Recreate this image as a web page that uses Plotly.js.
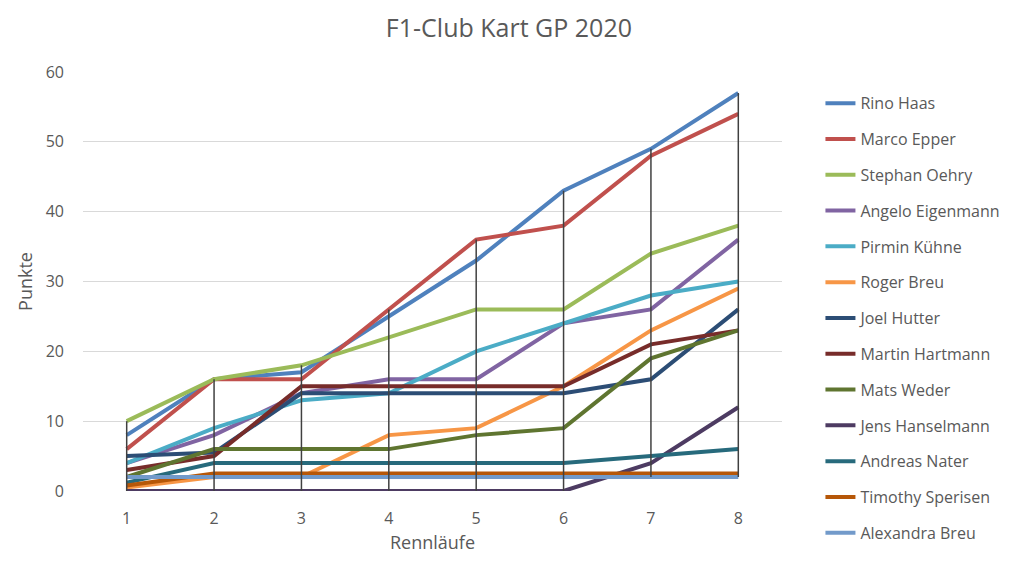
<!DOCTYPE html>
<html><head><meta charset="utf-8">
<script src="https://cdn.plot.ly/plotly-3.0.1.min.js"></script>
<style>html,body{margin:0;padding:0;background:#fff}#c{width:1024px;height:563px}</style>
</head><body><div id="c"></div>
<script>
const races = [1, 2, 3, 4, 5, 6, 7, 8];
const names = ["Rino Haas","Marco Epper","Stephan Oehry","Angelo Eigenmann","Pirmin Kühne","Roger Breu","Joel Hutter","Martin Hartmann","Mats Weder","Jens Hanselmann","Andreas Nater","Timothy Sperisen","Alexandra Breu"];
const rinoHaas        = [8, 16, 17, 25, 33, 43, 49, 57];
const marcoEpper      = [6, 16, 16, 26, 36, 38, 48, 54];
const stephanOehry    = [10, 16, 18, 22, 26, 26, 34, 38];
const angeloEigenmann = [4, 8, 14, 16, 16, 24, 26, 36];
const pirminKuehne    = [4, 9, 13, 14, 20, 24, 28, 30];
const rogerBreu       = [0.5, 2, 2, 8, 9, 15, 23, 29];
const joelHutter      = [5, 5.5, 14, 14, 14, 14, 16, 26];
const martinHartmann  = [3, 5, 15, 15, 15, 15, 21, 23];
const matsWeder       = [2, 6, 6, 6, 8, 9, 19, 23];
const jensHanselmann  = [0, 0, 0, 0, 0, 0, 4, 12];
const andreasNater    = [1.2, 4, 4, 4, 4, 4, 5, 6];
const timothySperisen = [0.8, 2.5, 2.5, 2.5, 2.5, 2.5, 2.5, 2.5];
const alexandraBreu   = [2, 2, 2, 2, 2, 2, 2, 2];
const series = [rinoHaas, marcoEpper, stephanOehry, angeloEigenmann, pirminKuehne, rogerBreu, joelHutter, martinHartmann, matsWeder, jensHanselmann, andreasNater, timothySperisen, alexandraBreu];
const colors = ["#4F81BD","#C0504D","#9BBB59","#8064A2","#4BACC6","#F79646","#2C4D75","#772C2A","#5F7530","#4D3B62","#276A7C","#B65708","#729ACA"];

const font = "Open Sans, Liberation Sans, sans-serif";
const traces = series.map((s, i) => ({
  x: races, y: s, name: names[i], type: "scatter", mode: "lines",
  line: {color: colors[i], width: 4}, legendgroup: "g" + i
}));
// high-low lines
const hlx = [], hly = [];
races.forEach((r, k) => {
  const vals = series.map(s => s[k]);
  hlx.push(r, r, null);
  hly.push(Math.min(...vals), Math.max(...vals), null);
});
traces.push({x: hlx, y: hly, type: "scatter", mode: "lines", showlegend: false,
  line: {color: "#404040", width: 1.5}, hoverinfo: "skip"});

const layout = {
  width: 1024, height: 563,
  margin: {l: 83, r: 242, t: 72, b: 72, autoexpand: false},
  paper_bgcolor: "#fff", plot_bgcolor: "#fff",
  font: {family: font, color: "#595959", size: 15},
  title: {text: "F1-Club Kart GP 2020", x: 0.497, xanchor: "center", y: 0.95, yanchor: "middle",
    font: {size: 25, color: "#595959", family: font}},
  xaxis: {range: [0.5, 8.5], tickvals: races, ticktext: races.map(String), showgrid: false,
    zeroline: false, showline: false, ticks: "", tickfont: {size: 16}, ticklabelstandoff: 16,
    title: {text: "Rennläufe", font: {size: 18}, standoff: 8}, automargin: false},
  yaxis: {range: [0, 60], dtick: 10, showgrid: true, gridcolor: "#D9D9D9", gridwidth: 1,
    zeroline: false, showline: false, ticks: "", tickfont: {size: 16}, ticklabelstandoff: 18,
    title: {text: "Punkte", font: {size: 18}, standoff: 8}, automargin: false},
  legend: {x: 1.055, xanchor: "left", y: 0.966, yanchor: "top", tracegroupgap: 12, maxheight: 540,
    font: {size: 16, color: "#595959"}, bgcolor: "rgba(0,0,0,0)"},
  showlegend: true
};
Plotly.newPlot("c", traces, layout, {staticPlot: true});
</script></body></html>
